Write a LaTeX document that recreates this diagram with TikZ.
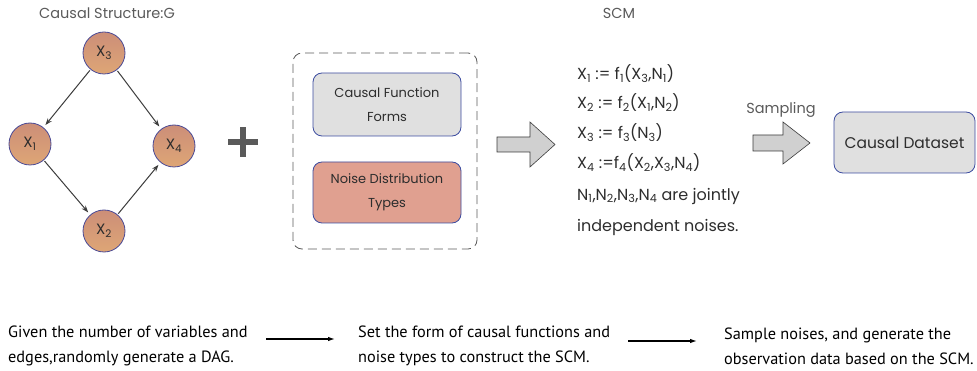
\documentclass[tikz,border=0pt]{standalone}
\usepackage{fontspec}
\setmainfont{Poppins}
\newfontfamily\capfont{PT Sans}
\usetikzlibrary{arrows.meta}

\definecolor{nodetop}{RGB}{204,142,120}
\definecolor{nodebot}{RGB}{222,166,118}
\definecolor{nodeline}{RGB}{74,74,150}
\definecolor{boxline}{RGB}{60,76,160}
\definecolor{boxgray}{RGB}{224,224,224}
\definecolor{boxred}{RGB}{224,160,144}
\definecolor{arcgray}{RGB}{60,60,60}
\definecolor{titlegray}{RGB}{90,90,90}
\definecolor{darktxt}{RGB}{45,45,45}
\definecolor{arrfill}{RGB}{208,208,208}

\newcommand{\ix}[1]{\textsubscript{#1}}

\begin{document}
\begin{tikzpicture}[x=1pt,y=-1pt]

\tikzstyle{var}=[circle,draw=nodeline,top color=nodetop,bottom color=nodebot,line width=.8pt,minimum size=42pt,inner sep=0pt,text=darktxt,font=\fontsize{15}{15}\selectfont]
\tikzstyle{edg}=[-{Stealth[length=7pt,width=5pt]},draw=arcgray,line width=1pt,shorten >=3pt,shorten <=1pt]
\tikzstyle{ttl}=[text=titlegray,font=\fontsize{14.5}{15}\selectfont]
\tikzstyle{card}=[rounded corners=9pt,draw=boxline,line width=.8pt,align=center,text=darktxt,font=\fontsize{13}{24}\selectfont]
\tikzstyle{eq}=[anchor=west,inner sep=0pt,text=darktxt,font=\fontsize{16}{16}\selectfont]
\tikzstyle{fat}=[draw=arcgray,fill=arrfill,line width=.6pt,line join=miter]
\tikzstyle{note}=[anchor=west,align=left,inner sep=0pt,font=\capfont\fontsize{16.3}{25}\selectfont]
\tikzstyle{flow}=[-{Latex[length=7pt,width=4.5pt]},line width=1.2pt]

\useasboundingbox (0,0) rectangle (977,371);

% causal graph G
\node[ttl] (gttl) at (107,13) {Causal Structure:G};
\node[var] (x3) at (104,53) {X\ix{3}};
\node[var] (x1) at (30,144) {X\ix{1}};
\node[var] (x4) at (174,146) {X\ix{4}};
\node[var] (x2) at (104,231) {X\ix{2}};

\draw[edg] (x3) -- (x1);
\draw[edg] (x3) -- (x4);
\draw[edg] (x1) -- (x2);
\draw[edg] (x2) -- (x4);

% plus
\coordinate (plus) at (243,142);
\draw[line width=6pt,draw=titlegray] ([xshift=-15pt]plus) -- ([xshift=15pt]plus);
\draw[line width=6pt,draw=titlegray] ([yshift=-15pt]plus) -- ([yshift=15pt]plus);

% configuration
\node[draw=titlegray,dash pattern=on 9pt off 5pt,line width=.8pt,rounded corners=9pt,minimum width=184pt,minimum height=196pt] (cfg) at (385,151) {};
\node[card,fill=boxgray,minimum width=148pt,minimum height=63pt] (funs) at (387,104.5) {Causal Function\\Forms};
\node[card,fill=boxred,minimum width=148pt,minimum height=61pt] (nois) at (387,192.5) {Noise Distribution\\Types};

% block arrows
\coordinate (ba) at (497,144.5);
\draw[fat] (ba) ++(0,-7.5) -- ++(33,0) -- ++(0,-15) -- ++(25,22.5) -- ++(-25,22.5) -- ++(0,-15) -- ++(-33,0) -- cycle;
\coordinate (bb) at (753,143);
\draw[fat] (bb) ++(0,-8) -- ++(30,0) -- ++(0,-13) -- ++(27,21) -- ++(-27,21) -- ++(0,-13) -- ++(-30,0) -- cycle;
\node[ttl] (smp) at (781,110) {Sampling};

% SCM
\node[ttl] (scm) at (619,13) {SCM};
\node[eq] (eqa) at (577,74) {X\ix{1} := f\ix{1}(X\ix{3},N\ix{1})};
\node[eq] (eqb) at (577,103) {X\ix{2} := f\ix{2}(X\ix{1},N\ix{2})};
\node[eq] (eqc) at (577,133) {X\ix{3} := f\ix{3}(N\ix{3})};
\node[eq] (eqd) at (577,163) {X\ix{4} :=f\ix{4}(X\ix{2},X\ix{3},N\ix{4})};
\node[eq] (eqe) at (577,196) {N\ix{1},N\ix{2},N\ix{3},N\ix{4} are jointly};
\node[eq] (eqf) at (577,227) {independent noises.};

% dataset
\node[card,fill=boxgray,minimum width=141pt,minimum height=61pt,font=\fontsize{15.5}{15}\selectfont] (data) at (904.5,142.5) {Causal Dataset};

% steps
\node[note] (ta) at (8,346) {Given the number of variables and\\edges,randomly generate a DAG.};
\node[note] (tb) at (358,346) {Set the form of causal functions and\\noise types to construct the SCM.};
\node[note] (tc) at (724,346) {Sample noises, and generate the\\observation data based on the SCM.};
\coordinate (fa) at (266,339);
\coordinate (fb) at (335,339);
\coordinate (fc) at (628,341);
\coordinate (fd) at (697,341);
\draw[flow] (fa) -- (fb);
\draw[flow] (fc) -- (fd);

\end{tikzpicture}
\end{document}
